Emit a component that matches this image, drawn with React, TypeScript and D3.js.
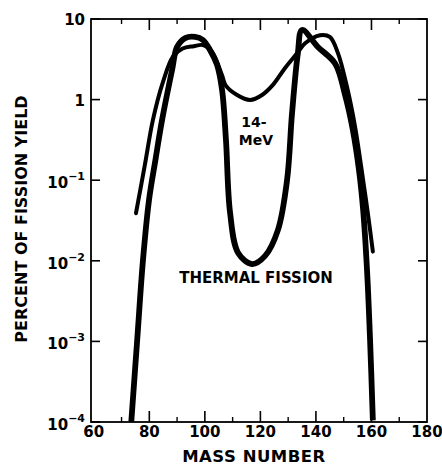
import React from "react";
import * as d3 from "d3";

// mass numbers on the x axis
const massTicks = [60, 80, 100, 120, 140, 160, 180];
const minorMassTicks = [70, 90, 110, 130, 150, 170];

// percent yield decades
const yieldTicks = [10, 1, 0.1, 0.01, 0.001, 0.0001];
const yieldBase = ["10", "1", "10", "10", "10", "10"];
const yieldSup = ["", "", "−1", "−2", "−3", "−4"];

// thermal fission curve
const thermalMass = [73.5, 75.6, 77.7, 79.9, 82.2, 84.6, 88.2, 90.0, 92.9, 96.5, 99.3, 101.9, 104.4, 106.2, 107.6, 109.1, 112, 117, 121.7, 126.3, 129.6, 131.4, 133.5, 135, 140.7, 146.9, 150.5, 153.3, 155.5, 157.0, 158.4, 159.5, 160.5];
const thermalYield = [0.0001, 0.001, 0.01, 0.057, 0.178, 0.56, 2.33, 4.5, 5.8, 6.0, 5.5, 4.1, 2.7, 1.32, 0.316, 0.039, 0.0125, 0.0091, 0.0115, 0.024, 0.1, 0.68, 3.78, 7.3, 4.5, 2.8, 1.14, 0.42, 0.134, 0.043, 0.0077, 0.00104, 0.000105];

// 14-MeV neutron fission curve
const mevMass = [75.2, 78.4, 81.3, 84.9, 88.5, 92, 96, 99.3, 102.6, 106.2, 107.5, 111.6, 116.3, 120.6, 124.5, 128.9, 133.2, 136.1, 141.5, 145, 147.9, 151.2, 154.1, 157, 158.7, 160.5];
const mevYield = [0.039, 0.155, 0.56, 1.65, 3.4, 4.3, 4.6, 4.75, 3.9, 2.0, 1.5, 1.14, 0.99, 1.14, 1.52, 2.47, 3.75, 5.0, 6.3, 6.0, 3.8, 1.43, 0.46, 0.1, 0.039, 0.013];

const W = 442;
const H = 467;
const FONT = "'DejaVu Sans', sans-serif";

export default function App() {
  const x = d3.scaleLinear().domain([59, 180]).range([91, 427]);
  const y = d3.scaleLog().domain([1e-4, 10]).range([422, 19]);
  const [x0, x1] = x.range();
  const [y0, y1] = y.range();

  const line = d3
    .line<[number, number]>()
    .x((d) => x(d[0]))
    .y((d) => y(d[1]))
    .curve(d3.curveCatmullRom.alpha(0.5));

  const thermal = thermalMass.map((m, i) => [m, thermalYield[i]] as [number, number]);
  const mev = mevMass.map((m, i) => [m, mevYield[i]] as [number, number]);

  return (
    <svg
      width={W}
      height={H}
      style={{ position: "absolute", left: 0, top: 0, background: "#fff" }}
      fontFamily={FONT}
      fontWeight="bold"
    >
      {/* frame */}
      <rect x={x0} y={y1} width={x1 - x0} height={y0 - y1} fill="none" stroke="#000" strokeWidth={1.8} />

      {/* bottom and top ticks */}
      {massTicks.filter((t) => t > 60 && t < 180).map((t) => (
        <g key={"M" + t}>
          <line x1={x(t)} x2={x(t)} y1={y0} y2={y0 - 11} stroke="#000" strokeWidth={1.6} />
          <line x1={x(t)} x2={x(t)} y1={y1} y2={y1 + 11} stroke="#000" strokeWidth={1.6} />
        </g>
      ))}
      {minorMassTicks.map((t) => (
        <g key={"m" + t}>
          <line x1={x(t)} x2={x(t)} y1={y0} y2={y0 - 5} stroke="#000" strokeWidth={1.4} />
          <line x1={x(t)} x2={x(t)} y1={y1} y2={y1 + 5} stroke="#000" strokeWidth={1.4} />
        </g>
      ))}
      {massTicks.map((t) => (
        <text key={"xl" + t} x={x(t)} y={437} textAnchor="middle" fontSize={15}>
          {t}
        </text>
      ))}

      {/* left and right ticks */}
      {yieldTicks.map((t, i) => (
        <g key={"y" + t}>
          <line x1={x0} x2={x0 + 9} y1={y(t)} y2={y(t)} stroke="#000" strokeWidth={1.6} />
          <line x1={x1} x2={x1 - 9} y1={y(t)} y2={y(t)} stroke="#000" strokeWidth={1.6} />
          {yieldSup[i] ? (
            <text x={85} y={y(t) + 8} textAnchor="end" fontSize={15}>
              {yieldBase[i]}
              <tspan fontSize={11} dy={-8}>{yieldSup[i]}</tspan>
            </text>
          ) : (
            <text x={85} y={y(t) + 6} textAnchor="end" fontSize={15}>
              {yieldBase[i]}
            </text>
          )}
        </g>
      ))}

      {/* curves */}
      <path d={line(mev) ?? ""} fill="none" stroke="#000" strokeWidth={4} strokeLinecap="round" strokeLinejoin="round" />
      <path d={line(thermal) ?? ""} fill="none" stroke="#000" strokeWidth={5.8} strokeLinecap="butt" strokeLinejoin="round" />

      {/* annotations */}
      <text x={254} y={127} textAnchor="middle" fontSize={14}>14-</text>
      <text x={256} y={145} textAnchor="middle" fontSize={14}>MeV</text>
      <text x={256} y={283} textAnchor="middle" fontSize={15}>THERMAL FISSION</text>

      {/* axis titles */}
      <text x={254} y={462} textAnchor="middle" fontSize={16.5} letterSpacing={0.5}>MASS NUMBER</text>
      <text transform="translate(27,219) rotate(-90)" textAnchor="middle" fontSize={16}>
        PERCENT OF FISSION YIELD
      </text>
    </svg>
  );
}
